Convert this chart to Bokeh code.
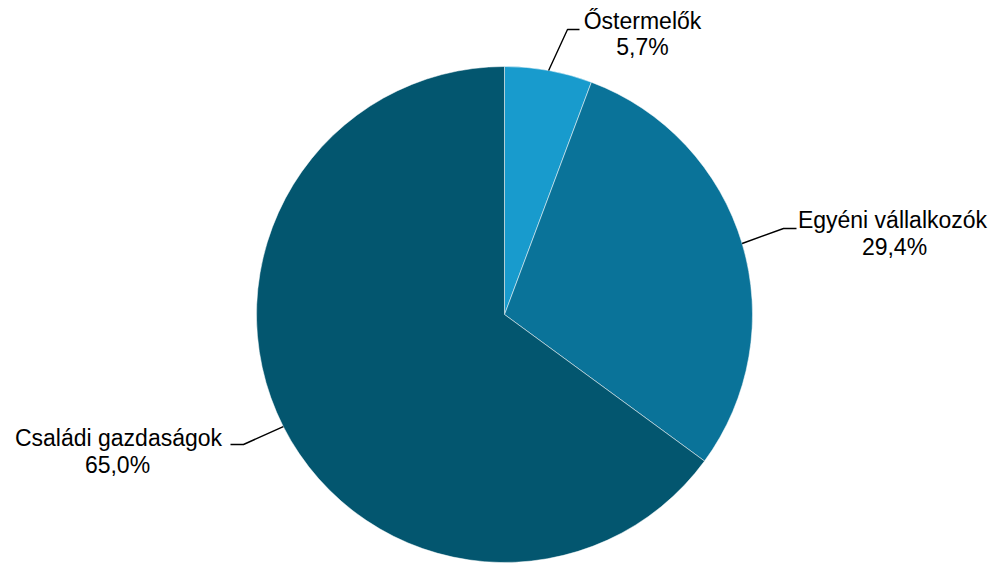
import math
from bokeh.plotting import figure
from bokeh.models import Range1d
from bokeh.core.properties import value
from bokeh.embed import file_html
from bokeh.resources import INLINE

categories = ["Őstermelők", "Egyéni vállalkozók", "Családi gazdaságok"]
shares = [5.7, 29.4, 65.0]
share_labels = ["5,7%", "29,4%", "65,0%"]
colors = ["#189BCD", "#0A7399", "#03566F"]

W, H = 1001, 563
# screen-pixel style coordinates with y pointing up (y = H - screen_y)
p = figure(width=W, height=H, output_backend="svg", toolbar_location=None,
           x_range=Range1d(0, W), y_range=Range1d(0, H),
           min_border=0)
p.axis.visible = False
p.grid.visible = False
p.outline_line_color = None
p.background_fill_color = "white"

cx, cy, r = 504, H - 314, 248
total = sum(shares)
starts, ends, mids = [], [], []
acc = 0.0
for s in shares:
    a0 = math.pi / 2 - 2 * math.pi * acc / total
    acc += s
    a1 = math.pi / 2 - 2 * math.pi * acc / total
    starts.append(a0)
    ends.append(a1)
    mids.append((a0 + a1) / 2)

p.wedge(x=[cx] * 3, y=[cy] * 3, radius=r, start_angle=starts, end_angle=ends,
        direction="clock", fill_color=colors, line_color="white", line_width=0.5)

# leader lines: from pie edge at mid angle to elbow, then horizontal
elbows = [(567, H - 29), (783, H - 228), (243, H - 444)]
ends_h = [(579, H - 29), (796, H - 228), (230, H - 444)]
xs, ys = [], []
for m, e, h in zip(mids, elbows, ends_h):
    x0 = cx + r * math.cos(m)
    y0 = cy + r * math.sin(m)
    xs.append([x0, e[0], h[0]])
    ys.append([y0, e[1], h[1]])
p.multi_line(xs, ys, line_color="black", line_width=1.4)

name_pos = [(642, H - 20), (892, H - 219), (118, H - 437)]
pct_pos = [(642, H - 46), (894, H - 246), (117, H - 464)]
font = value("Liberation Sans")
p.text(x=[q[0] for q in name_pos], y=[q[1] for q in name_pos], text=categories,
       text_font=font, text_font_size="23px", text_align="center",
       text_baseline="alphabetic", text_color="black")
p.text(x=[q[0] for q in pct_pos], y=[q[1] for q in pct_pos], text=share_labels,
       text_font=font, text_font_size="23px", text_align="center",
       text_baseline="alphabetic", text_color="black")

open("out.html", "w").write(file_html(p, INLINE))
